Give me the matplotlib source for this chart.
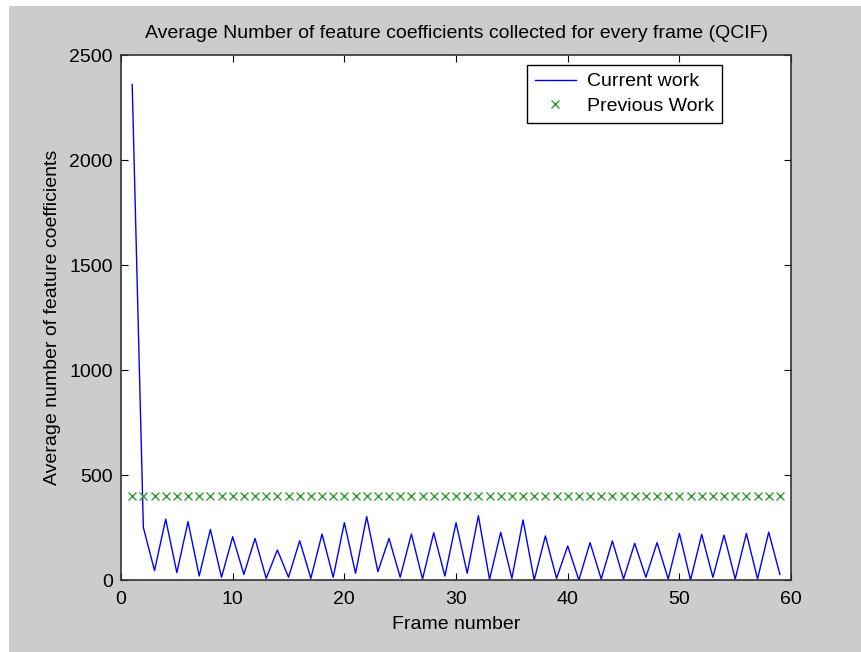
import matplotlib.pyplot as plt
from matplotlib.patches import Rectangle

frames = list(range(1, 60))
current = [2360, 250, 45, 290, 35, 278, 19, 241, 13, 206,
           27, 198, 8, 143, 13, 187, 8, 219, 13, 273,
           32, 302, 40, 198, 13, 219, 5, 225, 19, 273,
           32, 306, 3, 227, 8, 286, 0, 210, 8, 162,
           0, 178, 5, 186, 5, 175, 13, 178, 5, 222,
           0, 217, 13, 214, 5, 222, 5, 228, 27]
previous = [400] * len(frames)

plt.rcParams['font.family'] = ['Liberation Sans', 'DejaVu Sans']

fig = plt.figure(figsize=(8.62, 6.52), dpi=100, facecolor='white')
fig.patches.append(Rectangle((9 / 862, 0), 1, 1 - 6 / 652, transform=fig.transFigure,
                             facecolor='#cccccc', edgecolor='none', zorder=-1))
ax = fig.add_axes([0.1404, 0.1104, 0.7773, 0.8052])

ax.plot(frames, current, '-', color='#0000ff', linewidth=1.0, label='Current work')
ax.plot(frames, previous, 'x', color='#33a033', markersize=6, markeredgewidth=1,
        linestyle='none', label='Previous Work')

ax.set_xlim(0, 60)
ax.set_ylim(0, 2500)
ax.set_xticks(range(0, 61, 10))
ax.set_yticks(range(0, 2501, 500))
ax.tick_params(axis='both', direction='in', top=True, right=True, length=5,
               labelsize=14, colors='black')
ax.tick_params(axis='x', pad=8)
ax.tick_params(axis='y', pad=6)
for s in ax.spines.values():
    s.set_color('#333333')
    s.set_linewidth(1.2)

ax.set_title('Average Number of feature coefficients collected for every frame (QCIF)',
             fontsize=14, pad=12)
ax.set_xlabel('Frame number', fontsize=14, labelpad=6)
ax.set_ylabel('Average number of feature coefficients', fontsize=14, labelpad=6)

leg = ax.legend(loc='upper right', bbox_to_anchor=(0.897, 0.981), borderaxespad=0,
                fontsize=14, fancybox=False, framealpha=1, edgecolor='black',
                handlelength=2.1, handletextpad=0.6, borderpad=0.4,
                labelspacing=0.35, markerscale=0.85)
leg.get_frame().set_linewidth(1.0)

plt.savefig('out.png', dpi=100, facecolor=fig.get_facecolor())
